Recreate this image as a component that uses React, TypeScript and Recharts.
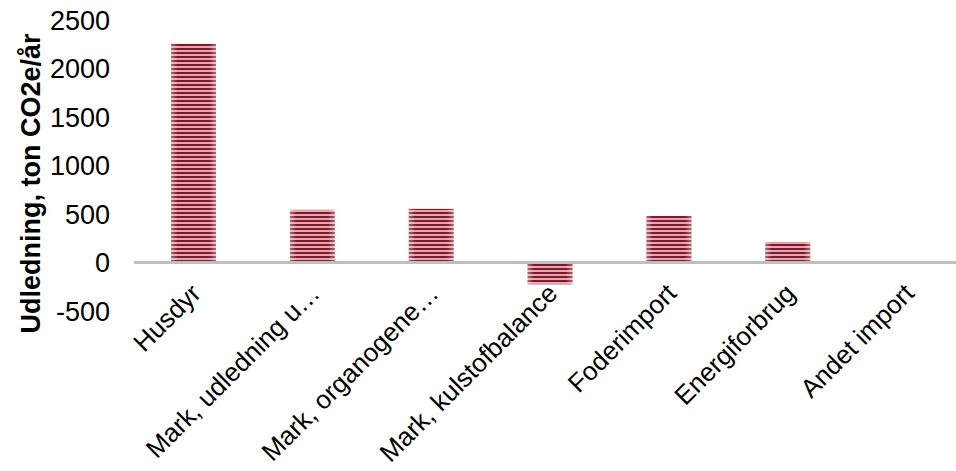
import React from 'react';
import { BarChart, Bar, XAxis, YAxis, ReferenceLine, Label } from 'recharts';

const categories = [
  'Husdyr',
  'Mark, udledning u…',
  'Mark, organogene…',
  'Mark, kulstofbalance',
  'Foderimport',
  'Energiforbrug',
  'Andet import',
];
const udledning = [2255, 543, 553, -225, 480, 212, 0];
const yTicks = [-500, 0, 500, 1000, 1500, 2000, 2500];

const data = categories.map((navn, i) => ({ navn, udledning: udledning[i] }));

const font = '"Liberation Sans", Arial, sans-serif';

const StripedBar = (props: any) => {
  const { x, y, width, height } = props;
  const top = height < 0 ? y + height : y;
  const h = Math.abs(height);
  if (!h) return null;
  return (
    <g>
      <rect x={x} y={top} width={width} height={h} fill="url(#stripes)" />
      <rect x={x} y={top} width={width} height={h} fill="url(#edges)" />
    </g>
  );
};

const AngledTick = (props: any) => {
  const { x, y, payload } = props;
  return (
    <text
      transform={`translate(${x + 9}, ${y - 16}) rotate(-45)`}
      textAnchor="end"
      fontSize={26}
      fontFamily={font}
      fill="#000"
    >
      {payload.value}
    </text>
  );
};

const YLabel = (props: any) => {
  const { viewBox } = props;
  const cx = 40;
  const cy = viewBox.y + viewBox.height / 2 + 18;
  return (
    <text
      transform={`translate(${cx}, ${cy}) rotate(-90)`}
      textAnchor="middle"
      fontSize={27}
      fontWeight="bold"
      fontFamily={font}
      fill="#000"
    >
      Udledning, ton CO2e/år
    </text>
  );
};

export default function App() {
  return (
    <div style={{ position: 'absolute', left: 0, top: 0, width: 956, height: 471, overflow: 'hidden', background: '#fff' }}>
      <BarChart
        width={966}
        height={471}
        data={data}
        margin={{ top: 20, right: 0, left: 0, bottom: 0 }}
        barSize={45}
      >
        <defs>
          <pattern id="stripes" width="4" height="4" patternUnits="userSpaceOnUse">
            <rect x="0" y="0" width="4" height="4" fill="#e8a3ab" />
            <rect x="0" y="0" width="4" height="2" fill="#7a1c30" />
          </pattern>
          <linearGradient id="edges" x1="0" y1="0" x2="1" y2="0">
            <stop offset="0" stopColor="#fff" stopOpacity={0.35} />
            <stop offset="0.15" stopColor="#fff" stopOpacity={0} />
            <stop offset="0.85" stopColor="#fff" stopOpacity={0} />
            <stop offset="1" stopColor="#fff" stopOpacity={0.35} />
          </linearGradient>
        </defs>
        <XAxis
          dataKey="navn"
          interval={0}
          height={160}
          axisLine={false}
          tickLine={false}
          tickSize={0}
          tickMargin={0}
          tick={<AngledTick />}
        />
        <YAxis
          width={134}
          domain={[-500, 2500]}
          ticks={yTicks}
          axisLine={false}
          tickLine={false}
          tickSize={0}
          tickMargin={24}
          tick={{ fontSize: 27, fontFamily: font, fill: '#000' }}
        >
          <Label content={<YLabel />} position="insideLeft" />
        </YAxis>
        <Bar dataKey="udledning" shape={<StripedBar />} isAnimationActive={false} />
        <ReferenceLine y={0} stroke="#bfbfbf" strokeWidth={3} />
      </BarChart>
    </div>
  );
}
